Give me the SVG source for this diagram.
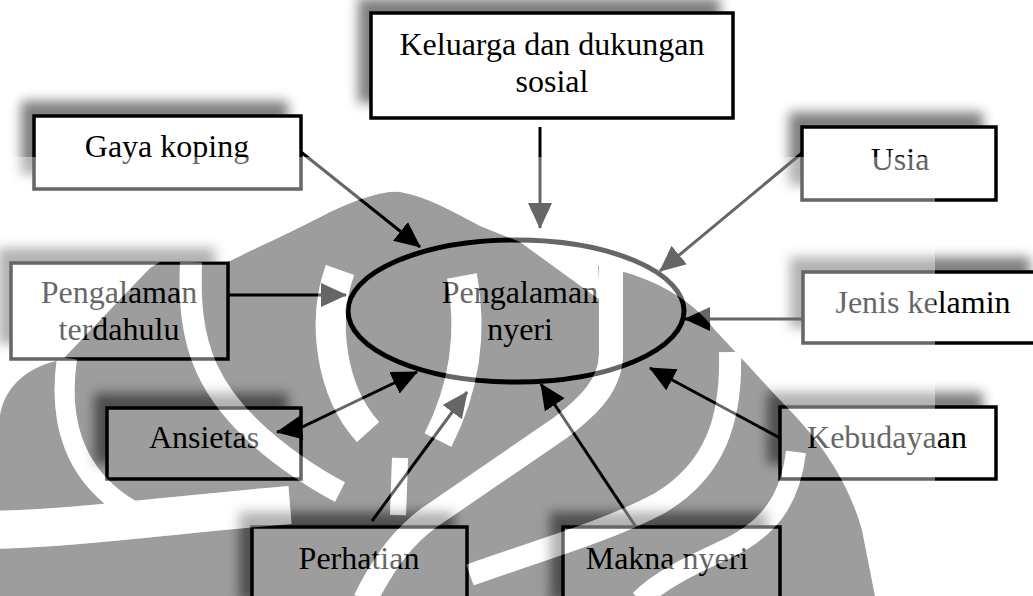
<svg xmlns="http://www.w3.org/2000/svg" xmlns:xlink="http://www.w3.org/1999/xlink" width="1033" height="596" viewBox="0 0 1033 596">
  <style>
    .box { fill: none; stroke: #000; stroke-width: 3.5; }
    .shade { fill: #000; filter: url(#shade); }
    .label { font-family: "Liberation Serif", "Times New Roman", serif; font-size: 32px; fill: #000; text-anchor: middle; }
    .link { fill: none; stroke: #000; stroke-width: 3; marker-end: url(#head); }
  </style>
  <defs>
    <!-- soft shadow thrown up and to the left, kept outside the box -->
    <filter id="shade" x="-30%" y="-60%" width="160%" height="220%">
      <feOffset in="SourceAlpha" dx="-13" dy="-15" result="off"/>
      <feGaussianBlur in="off" stdDeviation="6" result="blur"/>
      <feComposite in="blur" in2="SourceAlpha" operator="out" result="outside"/>
      <feFlood flood-color="#000" flood-opacity="0.5"/>
      <feComposite in2="outside" operator="in"/>
    </filter>
    <marker id="head" markerUnits="userSpaceOnUse" markerWidth="26" markerHeight="24" viewBox="0 0 26 24" refX="25" refY="12" orient="auto-start-reverse">
      <path d="M0,0 L26,12 L0,24 Z" fill="#000"/>
    </marker>
    <!-- emblem in the background: solid body and the light bands cut through it -->
    <g id="wm-body">
      <path d="M0,596 L0,415 C5,385 30,365 62,360 L150,268 L160,262 L228,262 C260,246 300,228 330,212 C360,198 385,190 400,192 C425,196 450,210 480,226 L520,242 L600,300 L598,266 C645,274 690,296 715,330 L745,362 L780,400 C820,440 848,480 862,530 L875,596 Z"/>
    </g>
    <g id="wm-bands">
      <path fill="none" stroke-width="20" d="M67,358 C58,420 72,480 140,515"/>
      <path fill="none" stroke-width="38" d="M-10,530 C80,528 170,515 290,505"/>
      <path fill="none" stroke-width="22" d="M191,262 C188,340 200,400 300,468 C315,478 328,486 340,492"/>
      <path fill="none" stroke-width="30" d="M340,270 C322,320 330,390 368,432"/>
      <path fill="none" stroke-width="30" d="M462,276 C472,330 466,385 438,440"/>
      <path fill="none" stroke-width="24" d="M611,266 L611,355 C610,385 590,405 560,428 L430,517 C405,535 385,560 365,600"/>
      <path fill="none" stroke-width="22" d="M730,352 C732,420 715,470 660,503 C610,530 540,550 470,575"/>
      <path fill="none" stroke-width="20" d="M796,452 C790,500 770,530 720,552 C690,566 660,580 640,600"/>
      <path fill="none" stroke-width="16" d="M400,458 L398,515"/>
    </g>
    <mask id="fadeMask" maskUnits="userSpaceOnUse" x="0" y="0" width="1033" height="596">
      <rect x="0" y="157" width="935" height="439" fill="#fff"/>
      <use xlink:href="#wm-body" fill="#000"/>
      <use xlink:href="#wm-bands" stroke="#fff"/>
    </mask>
  </defs>

  <rect width="1033" height="596" fill="#fff"/>

  <g id="emblem">
    <use xlink:href="#wm-body" fill="#9d9d9d"/>
    <use xlink:href="#wm-bands" stroke="#fff"/>
  </g>

  <g id="keluarga">
    <rect class="shade" x="371" y="13" width="362" height="105"/>
    <rect class="box" x="371" y="13" width="362" height="105"/>
    <text class="label" x="552" y="55">Keluarga dan dukungan</text>
    <text class="label" x="552" y="92">sosial</text>
  </g>

  <g id="gaya-koping">
    <rect class="shade" x="34" y="116" width="267" height="73"/>
    <rect class="box" x="34" y="116" width="267" height="73"/>
    <text class="label" x="167" y="157">Gaya koping</text>
  </g>

  <g id="usia">
    <rect class="shade" x="802" y="127" width="194" height="73"/>
    <rect class="box" x="802" y="127" width="194" height="73"/>
    <text class="label" x="900" y="170">Usia</text>
  </g>

  <g id="pengalaman-terdahulu">
    <rect class="shade" x="11" y="263" width="217" height="96"/>
    <rect class="box" x="11" y="263" width="217" height="96"/>
    <text class="label" x="119" y="303">Pengalaman</text>
    <text class="label" x="119" y="340">terdahulu</text>
  </g>

  <g id="jenis-kelamin">
    <rect class="shade" x="803" y="272" width="240" height="71"/>
    <rect class="box" x="803" y="272" width="240" height="71"/>
    <text class="label" x="923" y="313">Jenis kelamin</text>
  </g>

  <g id="ansietas">
    <rect class="shade" x="107" y="408" width="194" height="71"/>
    <rect class="box" x="107" y="408" width="194" height="71"/>
    <text class="label" x="204" y="448">Ansietas</text>
  </g>

  <g id="kebudayaan">
    <rect class="shade" x="780" y="407" width="216" height="72"/>
    <rect class="box" x="780" y="407" width="216" height="72"/>
    <text class="label" x="887" y="448">Kebudayaan</text>
  </g>

  <g id="perhatian">
    <rect class="shade" x="252" y="527" width="215" height="90"/>
    <rect class="box" x="252" y="527" width="215" height="90"/>
    <text class="label" x="359" y="569">Perhatian</text>
  </g>

  <g id="makna-nyeri">
    <rect class="shade" x="563" y="527" width="217" height="90"/>
    <rect class="box" x="563" y="527" width="217" height="90"/>
    <text class="label" x="667" y="569">Makna nyeri</text>
  </g>

  <g id="pengalaman-nyeri">
    <ellipse cx="516" cy="311" rx="168" ry="71" fill="none" stroke="#000" stroke-width="5"/>
    <text class="label" x="520" y="303">Pengalaman</text>
    <text class="label" x="520" y="340">nyeri</text>
  </g>

  <g id="connectors">
    <path class="link" d="M540,127 L540,228"/>
    <path class="link" d="M301,152 L420,247"/>
    <path class="link" d="M802,153 L660,271"/>
    <path class="link" d="M228,295 L346,295"/>
    <path class="link" d="M803,319 L685,319"/>
    <path class="link" d="M780,438 L650,368"/>
    <path class="link" d="M636,527 L541,384"/>
    <path class="link" d="M372,521 L467,392"/>
    <path class="link" d="M277,432 L300,428 L417,372" style="marker-start: url(#head)"/>
  </g>

  <!-- tonal wash over the lower left sheet, leaving the emblem body untouched -->
  <rect x="0" y="157" width="935" height="439" fill="#fff" fill-opacity="0.4" mask="url(#fadeMask)"/>
</svg>
